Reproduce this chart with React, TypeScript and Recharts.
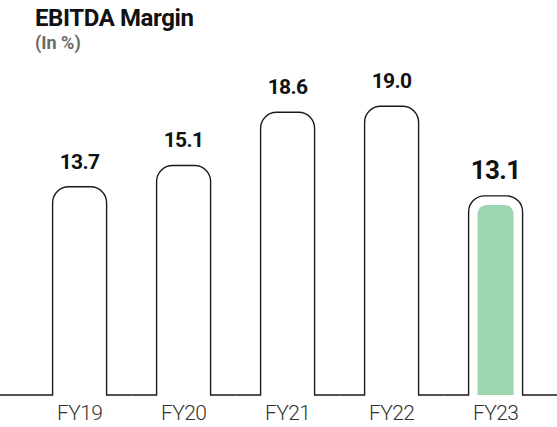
import React from 'react';
import { BarChart, Bar, XAxis, YAxis, LabelList } from 'recharts';

const years = ['FY19', 'FY20', 'FY21', 'FY22', 'FY23'];
const margins = [13.7, 15.1, 18.6, 19.0, 13.1];
const highlightYear = 'FY23';

const chartData = years.map((year, i) => ({ year, margin: margins[i] }));

const W = 557;
const H = 427;
const GAP_HALF = 25;

const OutlineBar: React.FC<any> = (props) => {
  const { x, y, width, height, index, payload } = props;
  const base = y + height;
  const r = 16;
  const start = index === 0 ? 0 : x - GAP_HALF;
  const end = index === chartData.length - 1 ? W : x + width + GAP_HALF;
  const d = `M${start},${base} L${x},${base} L${x},${y + r} A${r},${r} 0 0 1 ${x + r},${y} L${x + width - r},${y} A${r},${r} 0 0 1 ${x + width},${y + r} L${x + width},${base} L${end},${base}`;
  const isHi = payload && payload.year === highlightYear;
  const ins = 9;
  const ir = 9;
  const ix = x + ins;
  const iw = width - ins * 2;
  const iy = y + ins;
  const inner = `M${ix},${base} L${ix},${iy + ir} A${ir},${ir} 0 0 1 ${ix + ir},${iy} L${ix + iw - ir},${iy} A${ir},${ir} 0 0 1 ${ix + iw},${iy + ir} L${ix + iw},${base} Z`;
  return (
    <g>
      {isHi && <path d={inner} fill="#9dd5af" />}
      <path d={d} fill="none" stroke="#1a1a1a" strokeWidth={1.4} />
    </g>
  );
};

const ValueLabel: React.FC<any> = ({ x, y, width, value, index }) => {
  const isHi = years[index] === highlightYear;
  return (
    <text
      x={x + width / 2}
      y={y - (isHi ? 17 : 18)}
      textAnchor="middle"
      fontFamily="Roboto, 'Liberation Sans', sans-serif"
      fontWeight={700}
      fontSize={isHi ? 26 : 21}
      letterSpacing={-0.6}
      fill="#111"
    >
      {Number(value).toFixed(1)}
    </text>
  );
};

export default function App() {
  return (
    <div style={{ position: 'absolute', left: 0, top: 0, width: W, height: H, background: '#fff', fontFamily: 'Roboto, sans-serif' }}>
      <div style={{ position: 'absolute', left: 35, top: 6, fontSize: 24, lineHeight: '24px', fontWeight: 700, color: '#111', letterSpacing: -0.4 }}>
        EBITDA Margin
      </div>
      <div style={{ position: 'absolute', left: 35, top: 34, fontSize: 18, lineHeight: '18px', fontWeight: 700, color: '#6b6b6b' }}>
        (In %)
      </div>
      <BarChart
        width={W}
        height={H}
        data={chartData}
        margin={{ top: 15, right: 9.4, left: 27.6, bottom: 0 }}
      >
        <XAxis
          dataKey="year"
          axisLine={false}
          tickLine={false}
          height={32}
          tickMargin={4}
          tick={{ fontSize: 21, fill: '#333', fontFamily: 'Roboto, sans-serif', fontWeight: 300, letterSpacing: -0.6 }}
        />
        <YAxis hide domain={[0, 25]} />
        <Bar dataKey="margin" barSize={54} shape={<OutlineBar />} isAnimationActive={false}>
          <LabelList dataKey="margin" content={<ValueLabel />} />
        </Bar>
      </BarChart>
    </div>
  );
}
